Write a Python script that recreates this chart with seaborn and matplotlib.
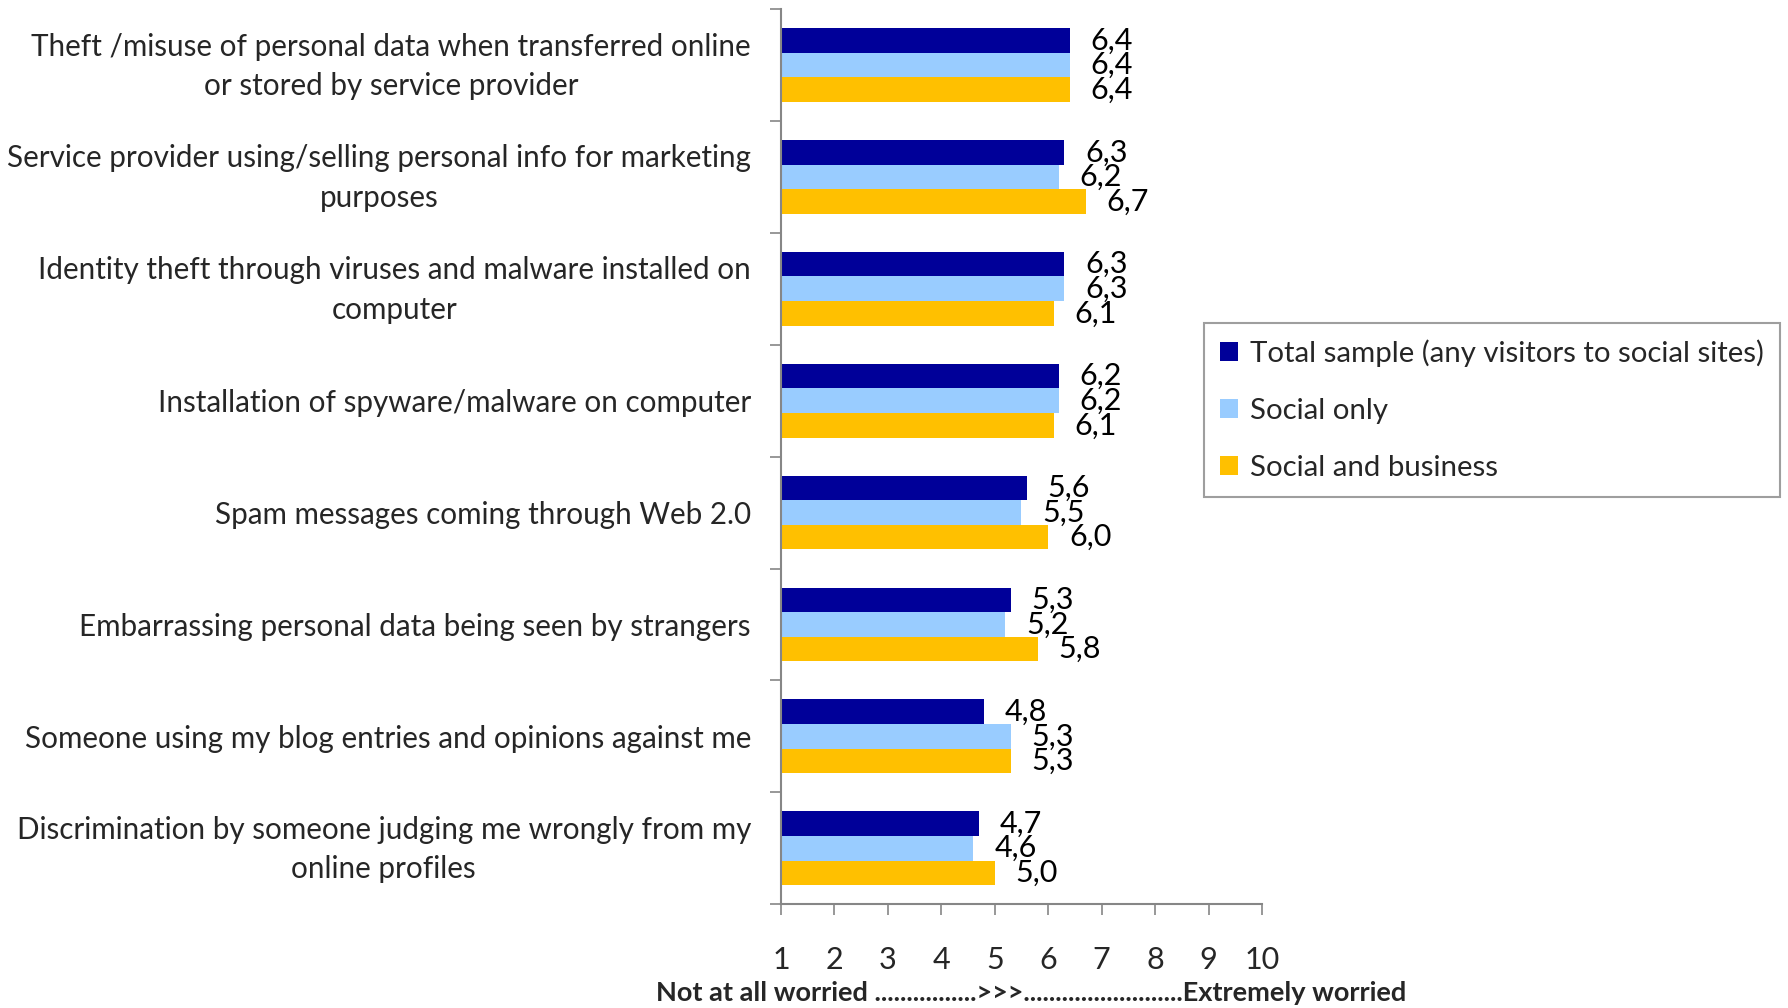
import numpy as np
import pandas as pd
import matplotlib
matplotlib.use("Agg")
import matplotlib.pyplot as plt
import matplotlib.transforms as mtransforms
import seaborn as sns
from matplotlib.patches import Patch

categories = [
    "Theft /misuse of personal data when transferred online\nor stored by service provider",
    "Service provider using/selling personal info for marketing\npurposes",
    "Identity theft through viruses and malware installed on\ncomputer",
    "Installation of spyware/malware on computer",
    "Spam messages coming through Web 2.0",
    "Embarrassing personal data being seen by strangers",
    "Someone using my blog entries and opinions against me",
    "Discrimination by someone judging me wrongly from my\nonline profiles",
]
series_names = [
    "Total sample (any visitors to social sites)",
    "Social only",
    "Social and business",
]
total_sample = [6.4, 6.3, 6.3, 6.2, 5.6, 5.3, 4.8, 4.7]
social_only = [6.4, 6.2, 6.3, 6.2, 5.5, 5.2, 5.3, 4.6]
social_business = [6.4, 6.7, 6.1, 6.1, 6.0, 5.8, 5.3, 5.0]
x_ticks = [1, 2, 3, 4, 5, 6, 7, 8, 9, 10]
colors = ["#000099", "#99CCFF", "#FFC000"]

rows = []
for name, vals in zip(series_names, [total_sample, social_only, social_business]):
    for cat, v in zip(categories, vals):
        rows.append({"category": cat, "series": name, "value": v})
df = pd.DataFrame(rows)

sns.set_theme(style="white")
plt.rcParams["font.family"] = ["Lato", "DejaVu Sans"]

fig = plt.figure(figsize=(17.88, 10.08), dpi=100)
ax = fig.add_axes([0.4368, 0.103, 0.2690, 0.888])

sns.barplot(data=df, y="category", x="value", hue="series", order=categories,
            hue_order=series_names, palette=colors, orient="h", width=0.66,
            saturation=1, errorbar=None, ax=ax, legend=False, linewidth=0)

for container, vals in zip(ax.containers, [total_sample, social_only, social_business]):
    ax.bar_label(container, labels=[f"{v:.1f}".replace(".", ",") for v in vals],
                 padding=15, fontsize=22, color="black")

ax.set_xlim(1, 10)
ax.set_ylim(len(categories) - 0.5, -0.5)
ax.set_xticks(x_ticks)
ax.set_xticklabels([str(t) for t in x_ticks], fontsize=22)
ax.tick_params(axis="x", which="major", length=8, width=1.2, color="#868686",
               direction="out", pad=22, bottom=True)
ax.set_yticks(range(len(categories)))
ax.set_yticklabels(categories, fontsize=21.3, ha="right", multialignment="center",
                   linespacing=1.5)
ax.tick_params(axis="y", which="major", length=0, pad=21.6)
# nudge two-line labels up so the text block sits centred on its group
lift = mtransforms.ScaledTranslation(0, 5 / 72, fig.dpi_scale_trans)
for lbl in ax.get_yticklabels():
    if "\n" in lbl.get_text():
        lbl.set_transform(lbl.get_transform() + lift)
ax.set_yticks(np.arange(-0.5, len(categories) + 0.5, 1), minor=True)
ax.tick_params(axis="y", which="minor", length=8, width=1.2, color="#868686",
               direction="out", left=True)

for side in ["top", "right"]:
    ax.spines[side].set_visible(False)
for side in ["left", "bottom"]:
    ax.spines[side].set_color("#868686")
    ax.spines[side].set_linewidth(1.5)

ax.set_ylabel("")
ax.set_xlabel("")
fig.text(0.5765, 1 - 993 / 1008,
         "Not at all worried ................>>>.........................Extremely worried",
         fontsize=19.5, fontweight="bold", ha="center", va="center")

handles = [Patch(facecolor=c, edgecolor="none") for c in colors]
leg = fig.legend(handles, series_names, loc="upper left",
                 bbox_to_anchor=(1204 / 1788, 1 - 323 / 1008),
                 fontsize=21.2, frameon=True, fancybox=False, handlelength=0.6,
                 handleheight=0.6, handletextpad=0.4, labelspacing=1.05,
                 borderpad=0.55, borderaxespad=0)
leg.get_frame().set_edgecolor("#868686")
leg.get_frame().set_linewidth(1.5)

fig.savefig("out.png", dpi=100)
